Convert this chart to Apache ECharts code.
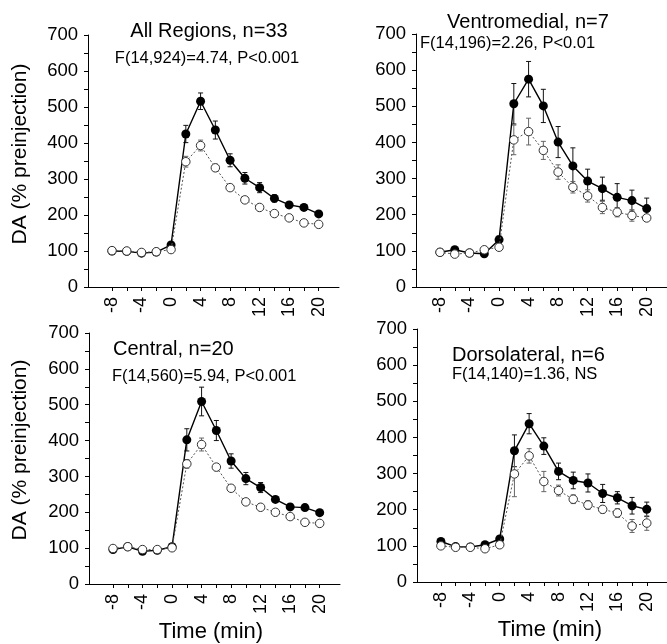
<!DOCTYPE html>
<html>
<head>
<meta charset="utf-8">
<script src="https://cdn.jsdelivr.net/npm/echarts@6/dist/echarts.min.js"></script>
<style>
  html, body { margin: 0; padding: 0; background: #fff; }
  #chart { width: 667px; height: 644px; }
</style>
</head>
<body>
<div id="chart"></div>
<script>
// Time points (min relative to injection)
const times = [-8, -6, -4, -2, 0, 2, 4, 6, 8, 10, 12, 14, 16, 18, 20];
const xTickValues = [-8, -6, -4, -2, 0, 2, 4, 6, 8, 10, 12, 14, 16, 18, 20];
const xLabelValues = [-8, -4, 0, 4, 8, 12, 16, 20];

const panelTitles = ["All Regions, n=33", "Ventromedial, n=7", "Central, n=20", "Dorsolateral, n=6"];
const statTexts = ["F(14,924)=4.74, P<0.001", "F(14,196)=2.26, P<0.01", "F(14,560)=5.94, P<0.001", "F(14,140)=1.36, NS"];

// All regions
const allFilled = [100, 99, 94, 97, 117, 425, 516, 436, 352, 302, 276, 246, 228, 221, 203];
const allFilledErr = [4, 4, 4, 4, 6, 24, 23, 25, 18, 16, 14, 10, 8, 8, 7];
const allOpen = [101, 100, 96, 98, 104, 348, 393, 331, 276, 242, 221, 204, 192, 178, 174];
const allOpenErr = [4, 4, 4, 4, 5, 15, 15, 10, 7, 7, 6, 6, 5, 5, 5];

// Ventromedial
const vmFilled = [96, 103, 94, 92, 131, 507, 575, 501, 401, 335, 293, 272, 248, 239, 217];
const vmFilledErr = [8, 8, 6, 8, 10, 56, 49, 46, 43, 50, 33, 32, 38, 29, 29];
const vmOpen = [96, 91, 94, 103, 110, 407, 430, 378, 318, 276, 252, 220, 207, 198, 191];
const vmOpenErr = [6, 6, 6, 8, 8, 41, 37, 25, 20, 16, 17, 17, 13, 16, 9];

// Central
const ceFilled = [96, 104, 91, 94, 104, 402, 509, 428, 343, 294, 269, 236, 215, 213, 199];
const ceFilledErr = [4, 4, 4, 4, 5, 31, 40, 28, 20, 17, 14, 8, 8, 8, 8];
const ceOpen = [99, 104, 96, 96, 101, 335, 389, 326, 267, 229, 214, 200, 188, 172, 169];
const ceOpenErr = [4, 4, 4, 4, 4, 12, 18, 10, 6, 5, 5, 5, 5, 5, 5];

// Dorsolateral
const dlFilled = [112, 98, 97, 103, 119, 363, 438, 376, 306, 281, 274, 245, 233, 211, 201];
const dlFilledErr = [6, 6, 6, 6, 8, 44, 28, 23, 23, 23, 25, 25, 17, 23, 20];
const dlOpen = [100, 96, 96, 92, 103, 299, 349, 278, 253, 229, 213, 201, 191, 155, 163];
const dlOpenErr = [6, 5, 5, 6, 6, 63, 20, 28, 15, 12, 12, 10, 12, 18, 20];

const panels = [
  { filled: allFilled, filledErr: allFilledErr, open: allOpen, openErr: allOpenErr },
  { filled: vmFilled, filledErr: vmFilledErr, open: vmOpen, openErr: vmOpenErr },
  { filled: ceFilled, filledErr: ceFilledErr, open: ceOpen, openErr: ceOpenErr },
  { filled: dlFilled, filledErr: dlFilledErr, open: dlOpen, openErr: dlOpenErr },
];

const FONT = "'Liberation Sans', Arial, Helvetica, sans-serif";

const grids = [
  { left: 88, top: 35, width: 251, height: 252 },
  { left: 416, top: 34, width: 251, height: 253 },
  { left: 89, top: 333, width: 251, height: 251 },
  { left: 417, top: 329, width: 251, height: 253 },
];

function errorBarSeries(idx, means, errs, color, z) {
  return {
    type: "custom",
    xAxisIndex: idx,
    yAxisIndex: idx,
    z: z,
    silent: true,
    data: times.map((t, i) => [t, means[i], errs[i]]),
    encode: { x: 0, y: 1 },
    renderItem(params, api) {
      const x = api.value(0);
      const m = api.value(1);
      const e = api.value(2);
      const top = api.coord([x, m + e]);
      const bot = api.coord([x, m - e]);
      const cap = 2.5;
      const st = { stroke: color, lineWidth: 1 };
      return {
        type: "group",
        children: [
          { type: "line", shape: { x1: top[0], y1: top[1], x2: bot[0], y2: bot[1] }, style: st },
          { type: "line", shape: { x1: top[0] - cap, y1: top[1], x2: top[0] + cap, y2: top[1] }, style: st },
          { type: "line", shape: { x1: bot[0] - cap, y1: bot[1], x2: bot[0] + cap, y2: bot[1] }, style: st },
        ],
      };
    },
  };
}

const xAxes = grids.map((g, i) => ({
  type: "value",
  gridIndex: i,
  min: -11.25,
  max: 22.75,
  axisLine: { show: true, onZero: false, lineStyle: { color: "#000", width: 1 } },
  axisTick: { show: true, customValues: xTickValues, length: 4, lineStyle: { color: "#000" } },
  axisLabel: {
    customValues: xLabelValues,
    rotate: 90,
    margin: 10,
    color: "#000",
    fontSize: 18,
    fontFamily: FONT,
  },
  splitLine: { show: false },
}));

const yAxes = grids.map((g, i) => ({
  type: "value",
  gridIndex: i,
  min: 0,
  max: 700,
  interval: 50,
  axisLine: { show: true, onZero: false, lineStyle: { color: "#000", width: 1 } },
  axisTick: { show: true, length: 4, lineStyle: { color: "#000" } },
  axisLabel: {
    color: "#000",
    fontSize: 18.5,
    fontFamily: FONT,
    margin: 10,
    formatter: (v) => (v % 100 === 0 ? String(v) : ""),
  },
  splitLine: { show: false },
}));

const series = [];
panels.forEach((p, i) => {
  series.push(errorBarSeries(i, p.filled, p.filledErr, "#111", 1));
  series.push(errorBarSeries(i, p.open, p.openErr, "#666", 1));
  series.push({
    type: "line",
    xAxisIndex: i,
    yAxisIndex: i,
    z: 3,
    data: times.map((t, k) => [t, p.filled[k]]),
    symbol: "circle",
    symbolSize: 9,
    lineStyle: { color: "#000", width: 1.4 },
    itemStyle: { color: "#000", borderColor: "#000", borderWidth: 0 },
    animation: false,
  });
  series.push({
    type: "line",
    xAxisIndex: i,
    yAxisIndex: i,
    z: 4,
    data: times.map((t, k) => [t, p.open[k]]),
    symbol: "circle",
    symbolSize: 8.5,
    lineStyle: { color: "#555", width: 1, type: [2, 2] },
    itemStyle: { color: "#fff", borderColor: "#333", borderWidth: 1 },
    animation: false,
  });
});

function txt(text, x, y, size, align, rotation) {
  return {
    type: "text",
    x: x,
    y: y,
    rotation: rotation || 0,
    style: {
      text: text,
      fill: "#000",
      font: size + "px " + FONT,
      align: align || "center",
      verticalAlign: "middle",
    },
  };
}

const graphics = [
  // panel titles
  txt(panelTitles[0], 209, 31, 20, "center"),
  txt(statTexts[0], 207, 58, 16.5, "center"),
  txt(panelTitles[1], 528, 22, 20, "center"),
  txt(statTexts[1], 420, 43, 16.5, "left"),
  txt(panelTitles[2], 113, 349, 20, "left"),
  txt(statTexts[2], 112, 376, 16.5, "left"),
  txt(panelTitles[3], 452, 355, 20, "left"),
  txt(statTexts[3], 452, 374, 16.5, "left"),
  // axis titles
  txt("DA (% preinjection)", 20, 154, 21, "center", Math.PI / 2),
  txt("DA (% preinjection)", 20, 450, 21, "center", Math.PI / 2),
  txt("Time (min)", 211, 632, 22, "center"),
  txt("Time (min)", 550, 630, 22, "center"),
];

const chart = echarts.init(document.getElementById("chart"), null, { renderer: "canvas" });
chart.setOption({
  animation: false,
  backgroundColor: "#fff",
  grid: grids,
  xAxis: xAxes,
  yAxis: yAxes,
  series: series,
  graphic: graphics,
});
</script>
</body>
</html>
